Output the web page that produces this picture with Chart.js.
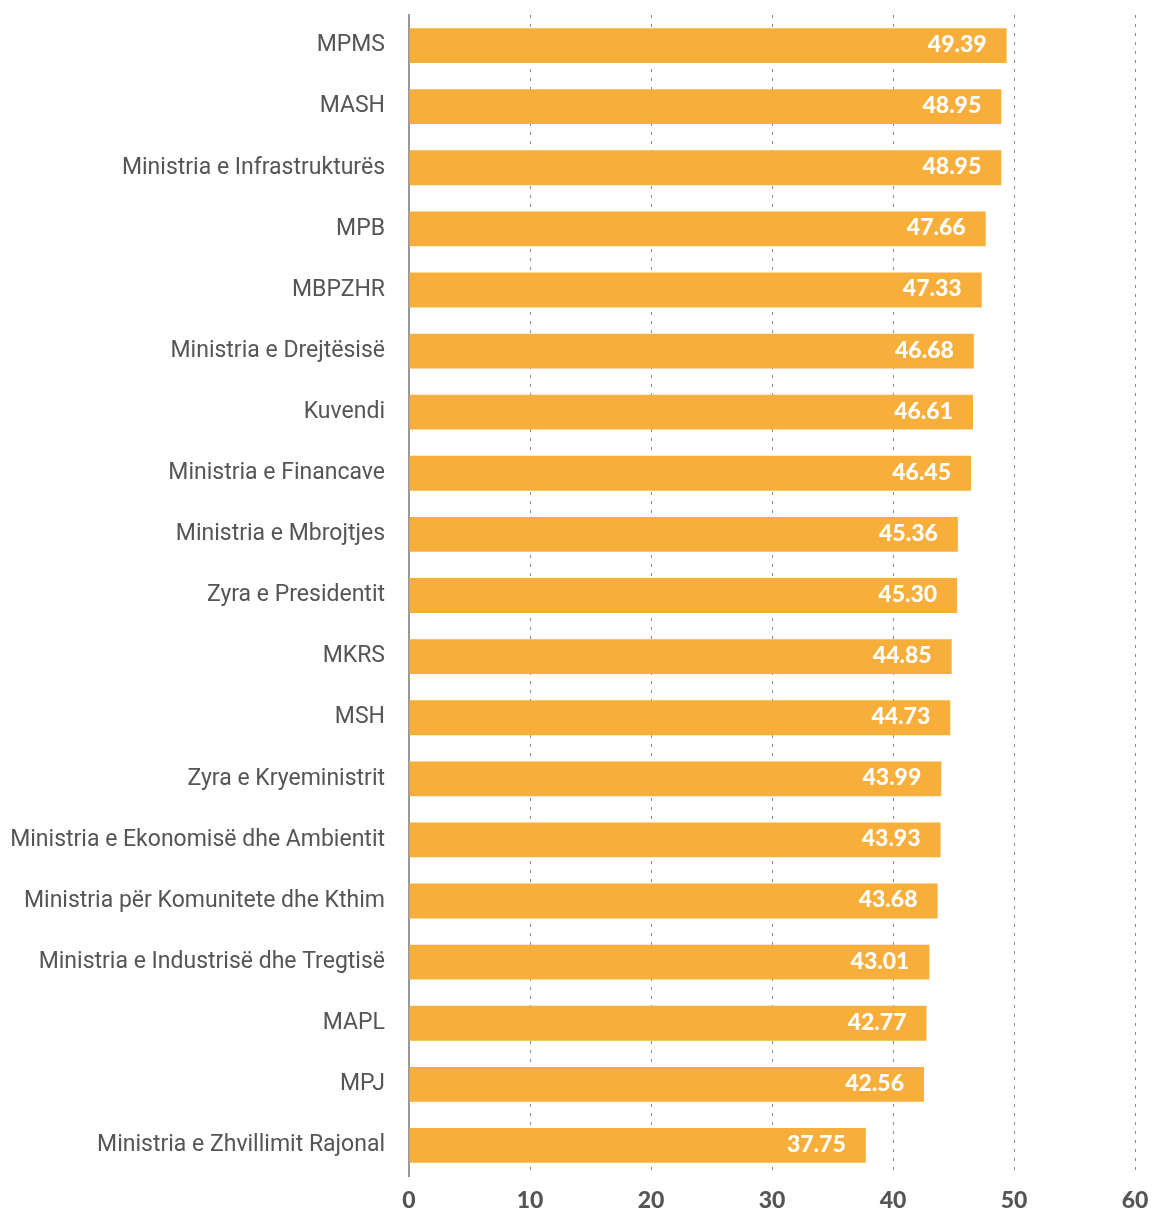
<!DOCTYPE html>
<html>
<head>
<meta charset="utf-8">
<script src="https://cdn.jsdelivr.net/npm/chart.js@4"></script>
<style>
  html, body { margin: 0; padding: 0; background: #fff; }
  #wrap { width: 1152px; height: 1211px; }
</style>
</head>
<body>
<div id="wrap"><canvas id="scoreChart"></canvas></div>
<script>
const institutions = [
  "MPMS", "MASH", "Ministria e Infrastrukturës", "MPB", "MBPZHR",
  "Ministria e Drejtësisë", "Kuvendi", "Ministria e Financave",
  "Ministria e Mbrojtjes", "Zyra e Presidentit", "MKRS", "MSH",
  "Zyra e Kryeministrit", "Ministria e Ekonomisë dhe Ambientit",
  "Ministria për Komunitete dhe Kthim", "Ministria e Industrisë dhe Tregtisë",
  "MAPL", "MPJ", "Ministria e Zhvillimit Rajonal"
];
const scores = [
  49.39, 48.95, 48.95, 47.66, 47.33, 46.68, 46.61, 46.45, 45.36, 45.30,
  44.85, 44.73, 43.99, 43.93, 43.68, 43.01, 42.77, 42.56, 37.75
];
const xTicks = [0, 10, 20, 30, 40, 50, 60];

// white value labels inside bar ends
const valueLabels = {
  id: "valueLabels",
  afterDatasetsDraw(chart) {
    const ctx = chart.ctx;
    const meta = chart.getDatasetMeta(0);
    ctx.save();
    ctx.fillStyle = "#fff";
    ctx.font = "900 23px Lato, 'DejaVu Sans', sans-serif";
    ctx.textAlign = "right";
    ctx.textBaseline = "middle";
    meta.data.forEach((bar, i) => {
      ctx.fillText(scores[i].toFixed(2), bar.x - 20, bar.y - 1);
    });
    ctx.restore();
  }
};

new Chart(document.getElementById("scoreChart"), {
  type: "bar",
  data: {
    labels: institutions,
    datasets: [{
      data: scores,
      backgroundColor: "#F7AE3B",
      categoryPercentage: 1,
      barPercentage: 0.57
    }]
  },
  options: {
    indexAxis: "y",
    responsive: true,
    maintainAspectRatio: false,
    animation: false,
    layout: { padding: { top: 15, right: 17, left: 0, bottom: 0 } },
    plugins: { legend: { display: false }, tooltip: { enabled: false } },
    scales: {
      x: {
        min: 0, max: 60,
        afterBuildTicks: s => { s.ticks = xTicks.map(v => ({ value: v })); },
        afterFit: s => { s.height = 35; s.paddingLeft = 0; s.paddingRight = 0; },
        grid: {
          color: c => c.tick.value === 0 ? "rgba(0,0,0,0)" : "#8a8a8a",
          lineWidth: 1,
          drawTicks: false
        },
        border: { display: false, dash: [3, 6] },
        ticks: {
          color: "#555",
          padding: 11,
          font: { family: "Lato, 'DejaVu Sans', sans-serif", size: 23, weight: "900" }
        }
      },
      y: {
        afterFit: s => { s.width = 409; s.paddingTop = 0; s.paddingBottom = 0; },
        grid: { display: false, drawTicks: false },
        border: { color: "#999", width: 2 },
        ticks: {
          color: "#555",
          padding: 24,
          font: { family: "Roboto, sans-serif", size: 23 }
        }
      }
    }
  },
  plugins: [valueLabels]
});
</script>
</body>
</html>
